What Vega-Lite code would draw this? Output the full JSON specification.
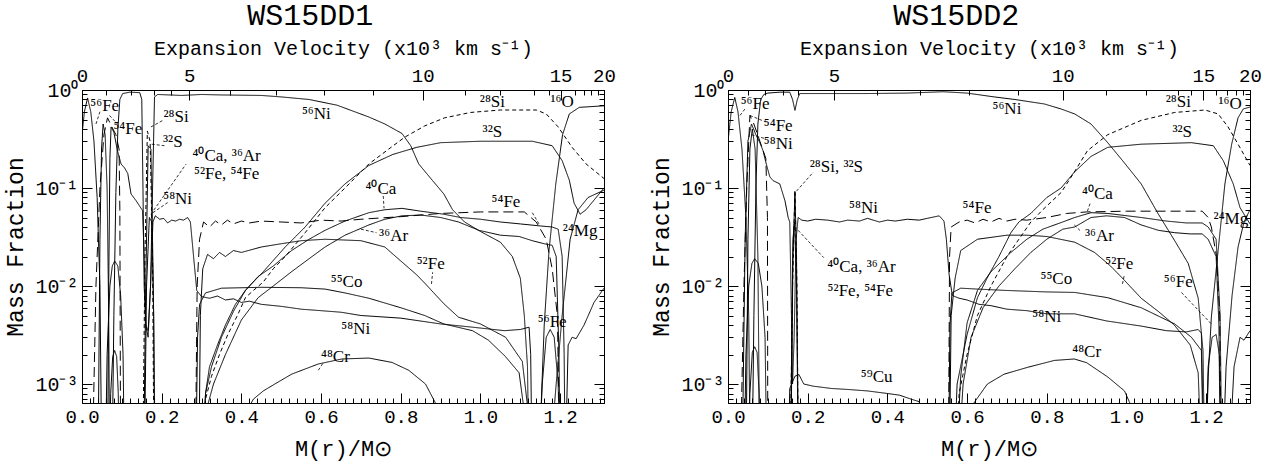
{
"$schema": "https://vega.github.io/schema/vega-lite/v6.json",
"background": "white",
"padding": {"left": 4, "right": 5, "top": 0, "bottom": 2},
"spacing": 34,
"config": {
  "view": {"stroke": "black", "strokeWidth": 1},
  "axis": {"grid": false, "domainColor": "black", "tickColor": "black", "labelColor": "black", "titleColor": "black", "labelFont": "Liberation Mono", "titleFont": "Liberation Mono", "labelFontSize": 19, "titleFontSize": 21, "titleFontWeight": "normal", "labelOverlap": false, "labelBound": false, "labelFlush": false, "tickWidth": 1, "domainWidth": 1}
},
"datasets": {
"lines": [
{"p":1,"s":"Ni56","d":"s","m":0.075,"y":0.0001},{"p":1,"s":"Ni56","d":"s","m":0.08,"y":0.005},{"p":1,"s":"Ni56","d":"s","m":0.085,"y":0.09},{"p":1,"s":"Ni56","d":"s","m":0.09,"y":0.4},{"p":1,"s":"Ni56","d":"s","m":0.095,"y":0.8},{"p":1,"s":"Ni56","d":"s","m":0.102,"y":0.92},{"p":1,"s":"Ni56","d":"s","m":0.12,"y":0.95},{"p":1,"s":"Ni56","d":"s","m":0.145,"y":0.94},{"p":1,"s":"Ni56","d":"s","m":0.15,"y":0.8},{"p":1,"s":"Ni56","d":"s","m":0.153,"y":0.1},{"p":1,"s":"Ni56","d":"s","m":0.156,"y":0.01},{"p":1,"s":"Ni56","d":"s","m":0.16,"y":0.004},{"p":1,"s":"Ni56","d":"s","m":0.166,"y":0.0035},{"p":1,"s":"Ni56","d":"s","m":0.172,"y":0.01},{"p":1,"s":"Ni56","d":"s","m":0.178,"y":0.15},{"p":1,"s":"Ni56","d":"s","m":0.182,"y":0.85},{"p":1,"s":"Ni56","d":"s","m":0.19,"y":0.9},{"p":1,"s":"Ni56","d":"s","m":0.25,"y":0.88},{"p":1,"s":"Ni56","d":"s","m":0.3,"y":0.9},{"p":1,"s":"Ni56","d":"s","m":0.35,"y":0.89},{"p":1,"s":"Ni56","d":"s","m":0.45,"y":0.88},{"p":1,"s":"Ni56","d":"s","m":0.5,"y":0.85},{"p":1,"s":"Ni56","d":"s","m":0.57,"y":0.8},{"p":1,"s":"Ni56","d":"s","m":0.64,"y":0.7},{"p":1,"s":"Ni56","d":"s","m":0.72,"y":0.53},{"p":1,"s":"Ni56","d":"s","m":0.76,"y":0.45},{"p":1,"s":"Ni56","d":"s","m":0.803,"y":0.36},{"p":1,"s":"Ni56","d":"s","m":0.825,"y":0.27},{"p":1,"s":"Ni56","d":"s","m":0.845,"y":0.176},{"p":1,"s":"Ni56","d":"s","m":0.879,"y":0.12},{"p":1,"s":"Ni56","d":"s","m":0.908,"y":0.087},{"p":1,"s":"Ni56","d":"s","m":0.93,"y":0.06},{"p":1,"s":"Ni56","d":"s","m":0.96,"y":0.045},{"p":1,"s":"Ni56","d":"s","m":1.0,"y":0.036},{"p":1,"s":"Ni56","d":"s","m":1.05,"y":0.028},{"p":1,"s":"Ni56","d":"s","m":1.08,"y":0.02},{"p":1,"s":"Ni56","d":"s","m":1.1,"y":0.012},{"p":1,"s":"Ni56","d":"s","m":1.11,"y":0.005},{"p":1,"s":"Ni56","d":"s","m":1.118,"y":0.0015},{"p":1,"s":"Ni56","d":"s","m":1.122,"y":0.0001},
{"p":1,"s":"Fe56","d":"s","m":0,"y":0.35},{"p":1,"s":"Fe56","d":"s","m":0.006,"y":0.6},{"p":1,"s":"Fe56","d":"s","m":0.014,"y":0.83},{"p":1,"s":"Fe56","d":"s","m":0.022,"y":0.6},{"p":1,"s":"Fe56","d":"s","m":0.03,"y":0.3},{"p":1,"s":"Fe56","d":"s","m":0.038,"y":0.08},{"p":1,"s":"Fe56","d":"s","m":0.045,"y":0.01},{"p":1,"s":"Fe56","d":"s","m":0.05,"y":0.0001},
{"p":1,"s":"Fe56o","d":"s","m":1.145,"y":0.0001},{"p":1,"s":"Fe56o","d":"s","m":1.155,"y":0.001},{"p":1,"s":"Fe56o","d":"s","m":1.165,"y":0.003},{"p":1,"s":"Fe56o","d":"s","m":1.175,"y":0.0036},{"p":1,"s":"Fe56o","d":"s","m":1.185,"y":0.003},{"p":1,"s":"Fe56o","d":"s","m":1.195,"y":0.001},{"p":1,"s":"Fe56o","d":"s","m":1.2,"y":0.0001},
{"p":1,"s":"c1","d":"s","m":0.04,"y":0.0001},{"p":1,"s":"c1","d":"s","m":0.045,"y":0.03},{"p":1,"s":"c1","d":"s","m":0.049,"y":0.25},{"p":1,"s":"c1","d":"s","m":0.053,"y":0.45},{"p":1,"s":"c1","d":"s","m":0.058,"y":0.35},{"p":1,"s":"c1","d":"s","m":0.063,"y":0.1},{"p":1,"s":"c1","d":"s","m":0.067,"y":0.005},{"p":1,"s":"c1","d":"s","m":0.07,"y":0.0001},
{"p":1,"s":"c2","d":"s","m":0.058,"y":0.0001},{"p":1,"s":"c2","d":"s","m":0.063,"y":0.002},{"p":1,"s":"c2","d":"s","m":0.07,"y":0.01},{"p":1,"s":"c2","d":"s","m":0.076,"y":0.016},{"p":1,"s":"c2","d":"s","m":0.082,"y":0.018},{"p":1,"s":"c2","d":"s","m":0.09,"y":0.016},{"p":1,"s":"c2","d":"s","m":0.097,"y":0.008},{"p":1,"s":"c2","d":"s","m":0.103,"y":0.002},{"p":1,"s":"c2","d":"s","m":0.107,"y":0.0001},
{"p":1,"s":"c3","d":"s","m":0.068,"y":0.0001},{"p":1,"s":"c3","d":"s","m":0.072,"y":0.0008},{"p":1,"s":"c3","d":"s","m":0.077,"y":0.0019},{"p":1,"s":"c3","d":"s","m":0.082,"y":0.0022},{"p":1,"s":"c3","d":"s","m":0.087,"y":0.0019},{"p":1,"s":"c3","d":"s","m":0.091,"y":0.0008},{"p":1,"s":"c3","d":"s","m":0.094,"y":0.0001},
{"p":1,"s":"Ni58","d":"s","m":0.064,"y":0.0001},{"p":1,"s":"Ni58","d":"s","m":0.067,"y":0.01},{"p":1,"s":"Ni58","d":"s","m":0.07,"y":0.2},{"p":1,"s":"Ni58","d":"s","m":0.073,"y":0.42},{"p":1,"s":"Ni58","d":"s","m":0.08,"y":0.37},{"p":1,"s":"Ni58","d":"s","m":0.089,"y":0.24},{"p":1,"s":"Ni58","d":"s","m":0.098,"y":0.176},{"p":1,"s":"Ni58","d":"s","m":0.107,"y":0.16},{"p":1,"s":"Ni58","d":"s","m":0.115,"y":0.14},{"p":1,"s":"Ni58","d":"s","m":0.123,"y":0.087},{"p":1,"s":"Ni58","d":"s","m":0.136,"y":0.074},{"p":1,"s":"Ni58","d":"s","m":0.145,"y":0.065},{"p":1,"s":"Ni58","d":"s","m":0.152,"y":0.059},{"p":1,"s":"Ni58","d":"s","m":0.156,"y":0.02},{"p":1,"s":"Ni58","d":"s","m":0.16,"y":0.004},{"p":1,"s":"Ni58","d":"s","m":0.166,"y":0.003},{"p":1,"s":"Ni58","d":"s","m":0.172,"y":0.01},{"p":1,"s":"Ni58","d":"s","m":0.178,"y":0.045},{"p":1,"s":"Ni58","d":"s","m":0.184,"y":0.052},{"p":1,"s":"Ni58","d":"s","m":0.195,"y":0.048},{"p":1,"s":"Ni58","d":"s","m":0.205,"y":0.049},{"p":1,"s":"Ni58","d":"s","m":0.215,"y":0.044},{"p":1,"s":"Ni58","d":"s","m":0.225,"y":0.047},{"p":1,"s":"Ni58","d":"s","m":0.235,"y":0.046},{"p":1,"s":"Ni58","d":"s","m":0.245,"y":0.048},{"p":1,"s":"Ni58","d":"s","m":0.255,"y":0.047},{"p":1,"s":"Ni58","d":"s","m":0.265,"y":0.05},{"p":1,"s":"Ni58","d":"s","m":0.272,"y":0.045},{"p":1,"s":"Ni58","d":"s","m":0.28,"y":0.02},{"p":1,"s":"Ni58","d":"s","m":0.288,"y":0.009},{"p":1,"s":"Ni58","d":"s","m":0.3,"y":0.0078},{"p":1,"s":"Ni58","d":"s","m":0.32,"y":0.0075},{"p":1,"s":"Ni58","d":"s","m":0.34,"y":0.0079},{"p":1,"s":"Ni58","d":"s","m":0.36,"y":0.0072},{"p":1,"s":"Ni58","d":"s","m":0.38,"y":0.0074},{"p":1,"s":"Ni58","d":"s","m":0.4,"y":0.0068},{"p":1,"s":"Ni58","d":"s","m":0.42,"y":0.007},{"p":1,"s":"Ni58","d":"s","m":0.45,"y":0.0065},{"p":1,"s":"Ni58","d":"s","m":0.5,"y":0.0062},{"p":1,"s":"Ni58","d":"s","m":0.55,"y":0.0058},{"p":1,"s":"Ni58","d":"s","m":0.6,"y":0.0056},{"p":1,"s":"Ni58","d":"s","m":0.65,"y":0.0054},{"p":1,"s":"Ni58","d":"s","m":0.7,"y":0.005},{"p":1,"s":"Ni58","d":"s","m":0.8,"y":0.0047},{"p":1,"s":"Ni58","d":"s","m":0.9,"y":0.0041},{"p":1,"s":"Ni58","d":"s","m":0.98,"y":0.0038},{"p":1,"s":"Ni58","d":"s","m":1.06,"y":0.0035},{"p":1,"s":"Ni58","d":"s","m":1.1,"y":0.0036},{"p":1,"s":"Ni58","d":"s","m":1.122,"y":0.0038},{"p":1,"s":"Ni58","d":"s","m":1.126,"y":0.002},{"p":1,"s":"Ni58","d":"s","m":1.13,"y":0.0001},
{"p":1,"s":"Si","d":"d","m":0.305,"y":0.0001},{"p":1,"s":"Si","d":"d","m":0.31,"y":0.0007},{"p":1,"s":"Si","d":"d","m":0.325,"y":0.0012},{"p":1,"s":"Si","d":"d","m":0.345,"y":0.002},{"p":1,"s":"Si","d":"d","m":0.366,"y":0.0032},{"p":1,"s":"Si","d":"d","m":0.39,"y":0.005},{"p":1,"s":"Si","d":"d","m":0.41,"y":0.0076},{"p":1,"s":"Si","d":"d","m":0.43,"y":0.009},{"p":1,"s":"Si","d":"d","m":0.455,"y":0.011},{"p":1,"s":"Si","d":"d","m":0.48,"y":0.015},{"p":1,"s":"Si","d":"d","m":0.51,"y":0.02},{"p":1,"s":"Si","d":"d","m":0.56,"y":0.035},{"p":1,"s":"Si","d":"d","m":0.61,"y":0.063},{"p":1,"s":"Si","d":"d","m":0.66,"y":0.1},{"p":1,"s":"Si","d":"d","m":0.72,"y":0.176},{"p":1,"s":"Si","d":"d","m":0.77,"y":0.25},{"p":1,"s":"Si","d":"d","m":0.81,"y":0.33},{"p":1,"s":"Si","d":"d","m":0.86,"y":0.43},{"p":1,"s":"Si","d":"d","m":0.91,"y":0.52},{"p":1,"s":"Si","d":"d","m":0.975,"y":0.59},{"p":1,"s":"Si","d":"d","m":1.05,"y":0.625},{"p":1,"s":"Si","d":"d","m":1.14,"y":0.625},{"p":1,"s":"Si","d":"d","m":1.165,"y":0.57},{"p":1,"s":"Si","d":"d","m":1.195,"y":0.42},{"p":1,"s":"Si","d":"d","m":1.23,"y":0.26},{"p":1,"s":"Si","d":"d","m":1.265,"y":0.176},{"p":1,"s":"Si","d":"d","m":1.31,"y":0.125},
{"p":1,"s":"Sic","d":"d","m":0.152,"y":0.0001},{"p":1,"s":"Sic","d":"d","m":0.158,"y":0.02},{"p":1,"s":"Sic","d":"d","m":0.164,"y":0.38},{"p":1,"s":"Sic","d":"d","m":0.171,"y":0.3},{"p":1,"s":"Sic","d":"d","m":0.177,"y":0.02},{"p":1,"s":"Sic","d":"d","m":0.181,"y":0.0001},
{"p":1,"s":"S","d":"s","m":0.3,"y":0.0001},{"p":1,"s":"S","d":"s","m":0.31,"y":0.0008},{"p":1,"s":"S","d":"s","m":0.32,"y":0.0015},{"p":1,"s":"S","d":"s","m":0.34,"y":0.0025},{"p":1,"s":"S","d":"s","m":0.36,"y":0.004},{"p":1,"s":"S","d":"s","m":0.385,"y":0.0065},{"p":1,"s":"S","d":"s","m":0.41,"y":0.009},{"p":1,"s":"S","d":"s","m":0.43,"y":0.011},{"p":1,"s":"S","d":"s","m":0.455,"y":0.014},{"p":1,"s":"S","d":"s","m":0.51,"y":0.025},{"p":1,"s":"S","d":"s","m":0.56,"y":0.04},{"p":1,"s":"S","d":"s","m":0.61,"y":0.07},{"p":1,"s":"S","d":"s","m":0.66,"y":0.11},{"p":1,"s":"S","d":"s","m":0.72,"y":0.17},{"p":1,"s":"S","d":"s","m":0.78,"y":0.22},{"p":1,"s":"S","d":"s","m":0.84,"y":0.26},{"p":1,"s":"S","d":"s","m":0.9,"y":0.29},{"p":1,"s":"S","d":"s","m":1.0,"y":0.3},{"p":1,"s":"S","d":"s","m":1.13,"y":0.3},{"p":1,"s":"S","d":"s","m":1.18,"y":0.27},{"p":1,"s":"S","d":"s","m":1.205,"y":0.19},{"p":1,"s":"S","d":"s","m":1.223,"y":0.12},{"p":1,"s":"S","d":"s","m":1.235,"y":0.07},{"p":1,"s":"S","d":"s","m":1.25,"y":0.054},{"p":1,"s":"S","d":"s","m":1.265,"y":0.06},{"p":1,"s":"S","d":"s","m":1.31,"y":0.1},
{"p":1,"s":"Sc","d":"s","m":0.154,"y":0.0001},{"p":1,"s":"Sc","d":"s","m":0.16,"y":0.01},{"p":1,"s":"Sc","d":"s","m":0.166,"y":0.27},{"p":1,"s":"Sc","d":"s","m":0.173,"y":0.25},{"p":1,"s":"Sc","d":"s","m":0.179,"y":0.01},{"p":1,"s":"Sc","d":"s","m":0.183,"y":0.0001},
{"p":1,"s":"CAc","d":"s","m":0.156,"y":0.0001},{"p":1,"s":"CAc","d":"s","m":0.162,"y":0.01},{"p":1,"s":"CAc","d":"s","m":0.169,"y":0.05},{"p":1,"s":"CAc","d":"s","m":0.175,"y":0.045},{"p":1,"s":"CAc","d":"s","m":0.18,"y":0.005},{"p":1,"s":"CAc","d":"s","m":0.184,"y":0.0001},
{"p":1,"s":"Ca","d":"s","m":0.3,"y":0.0001},{"p":1,"s":"Ca","d":"s","m":0.31,"y":0.0008},{"p":1,"s":"Ca","d":"s","m":0.325,"y":0.0015},{"p":1,"s":"Ca","d":"s","m":0.35,"y":0.003},{"p":1,"s":"Ca","d":"s","m":0.38,"y":0.0055},{"p":1,"s":"Ca","d":"s","m":0.41,"y":0.009},{"p":1,"s":"Ca","d":"s","m":0.442,"y":0.0125},{"p":1,"s":"Ca","d":"s","m":0.48,"y":0.016},{"p":1,"s":"Ca","d":"s","m":0.526,"y":0.023},{"p":1,"s":"Ca","d":"s","m":0.57,"y":0.03},{"p":1,"s":"Ca","d":"s","m":0.61,"y":0.037},{"p":1,"s":"Ca","d":"s","m":0.66,"y":0.046},{"p":1,"s":"Ca","d":"s","m":0.72,"y":0.056},{"p":1,"s":"Ca","d":"s","m":0.76,"y":0.06},{"p":1,"s":"Ca","d":"s","m":0.803,"y":0.062},{"p":1,"s":"Ca","d":"s","m":0.85,"y":0.058},{"p":1,"s":"Ca","d":"s","m":0.908,"y":0.054},{"p":1,"s":"Ca","d":"s","m":0.95,"y":0.05},{"p":1,"s":"Ca","d":"s","m":1.0,"y":0.048},{"p":1,"s":"Ca","d":"s","m":1.05,"y":0.045},{"p":1,"s":"Ca","d":"s","m":1.1,"y":0.043},{"p":1,"s":"Ca","d":"s","m":1.15,"y":0.041},{"p":1,"s":"Ca","d":"s","m":1.18,"y":0.04},{"p":1,"s":"Ca","d":"s","m":1.195,"y":0.038},{"p":1,"s":"Ca","d":"s","m":1.205,"y":0.02},{"p":1,"s":"Ca","d":"s","m":1.21,"y":0.002},{"p":1,"s":"Ca","d":"s","m":1.213,"y":0.0001},
{"p":1,"s":"Ar","d":"s","m":0.305,"y":0.0001},{"p":1,"s":"Ar","d":"s","m":0.315,"y":0.0006},{"p":1,"s":"Ar","d":"s","m":0.33,"y":0.001},{"p":1,"s":"Ar","d":"s","m":0.36,"y":0.002},{"p":1,"s":"Ar","d":"s","m":0.4,"y":0.0045},{"p":1,"s":"Ar","d":"s","m":0.442,"y":0.0076},{"p":1,"s":"Ar","d":"s","m":0.48,"y":0.01},{"p":1,"s":"Ar","d":"s","m":0.526,"y":0.014},{"p":1,"s":"Ar","d":"s","m":0.57,"y":0.019},{"p":1,"s":"Ar","d":"s","m":0.61,"y":0.025},{"p":1,"s":"Ar","d":"s","m":0.66,"y":0.033},{"p":1,"s":"Ar","d":"s","m":0.72,"y":0.042},{"p":1,"s":"Ar","d":"s","m":0.76,"y":0.048},{"p":1,"s":"Ar","d":"s","m":0.803,"y":0.052},{"p":1,"s":"Ar","d":"s","m":0.85,"y":0.053},{"p":1,"s":"Ar","d":"s","m":0.9,"y":0.05},{"p":1,"s":"Ar","d":"s","m":0.945,"y":0.045},{"p":1,"s":"Ar","d":"s","m":0.996,"y":0.037},{"p":1,"s":"Ar","d":"s","m":1.05,"y":0.033},{"p":1,"s":"Ar","d":"s","m":1.097,"y":0.032},{"p":1,"s":"Ar","d":"s","m":1.13,"y":0.029},{"p":1,"s":"Ar","d":"s","m":1.16,"y":0.027},{"p":1,"s":"Ar","d":"s","m":1.18,"y":0.026},{"p":1,"s":"Ar","d":"s","m":1.19,"y":0.02},{"p":1,"s":"Ar","d":"s","m":1.197,"y":0.002},{"p":1,"s":"Ar","d":"s","m":1.2,"y":0.0001},
{"p":1,"s":"Fe52","d":"s","m":0.293,"y":0.0001},{"p":1,"s":"Fe52","d":"s","m":0.297,"y":0.005},{"p":1,"s":"Fe52","d":"s","m":0.303,"y":0.015},{"p":1,"s":"Fe52","d":"s","m":0.315,"y":0.021},{"p":1,"s":"Fe52","d":"s","m":0.33,"y":0.019},{"p":1,"s":"Fe52","d":"s","m":0.345,"y":0.022},{"p":1,"s":"Fe52","d":"s","m":0.36,"y":0.02},{"p":1,"s":"Fe52","d":"s","m":0.38,"y":0.023},{"p":1,"s":"Fe52","d":"s","m":0.4,"y":0.022},{"p":1,"s":"Fe52","d":"s","m":0.45,"y":0.025},{"p":1,"s":"Fe52","d":"s","m":0.5,"y":0.027},{"p":1,"s":"Fe52","d":"s","m":0.55,"y":0.029},{"p":1,"s":"Fe52","d":"s","m":0.61,"y":0.03},{"p":1,"s":"Fe52","d":"s","m":0.7,"y":0.029},{"p":1,"s":"Fe52","d":"s","m":0.76,"y":0.025},{"p":1,"s":"Fe52","d":"s","m":0.8,"y":0.018},{"p":1,"s":"Fe52","d":"s","m":0.84,"y":0.013},{"p":1,"s":"Fe52","d":"s","m":0.862,"y":0.0105},{"p":1,"s":"Fe52","d":"s","m":0.908,"y":0.0066},{"p":1,"s":"Fe52","d":"s","m":0.945,"y":0.0048},{"p":1,"s":"Fe52","d":"s","m":1.0,"y":0.0041},{"p":1,"s":"Fe52","d":"s","m":1.063,"y":0.003},{"p":1,"s":"Fe52","d":"s","m":1.105,"y":0.0017},{"p":1,"s":"Fe52","d":"s","m":1.118,"y":0.0006},{"p":1,"s":"Fe52","d":"s","m":1.122,"y":0.0001},
{"p":1,"s":"Co","d":"s","m":0.285,"y":0.0001},{"p":1,"s":"Co","d":"s","m":0.29,"y":0.003},{"p":1,"s":"Co","d":"s","m":0.295,"y":0.0065},{"p":1,"s":"Co","d":"s","m":0.31,"y":0.0085},{"p":1,"s":"Co","d":"s","m":0.35,"y":0.0095},{"p":1,"s":"Co","d":"s","m":0.45,"y":0.0097},{"p":1,"s":"Co","d":"s","m":0.55,"y":0.0096},{"p":1,"s":"Co","d":"s","m":0.61,"y":0.0093},{"p":1,"s":"Co","d":"s","m":0.66,"y":0.0085},{"p":1,"s":"Co","d":"s","m":0.72,"y":0.0075},{"p":1,"s":"Co","d":"s","m":0.8,"y":0.006},{"p":1,"s":"Co","d":"s","m":0.86,"y":0.005},{"p":1,"s":"Co","d":"s","m":0.908,"y":0.0041},{"p":1,"s":"Co","d":"s","m":0.98,"y":0.0035},{"p":1,"s":"Co","d":"s","m":1.02,"y":0.0028},{"p":1,"s":"Co","d":"s","m":1.063,"y":0.0019},{"p":1,"s":"Co","d":"s","m":1.097,"y":0.0013},{"p":1,"s":"Co","d":"s","m":1.108,"y":0.0006},{"p":1,"s":"Co","d":"s","m":1.113,"y":0.0001},
{"p":1,"s":"Cr","d":"s","m":0.395,"y":0.0001},{"p":1,"s":"Cr","d":"s","m":0.41,"y":0.0005},{"p":1,"s":"Cr","d":"s","m":0.43,"y":0.0007},{"p":1,"s":"Cr","d":"s","m":0.455,"y":0.00085},{"p":1,"s":"Cr","d":"s","m":0.484,"y":0.001},{"p":1,"s":"Cr","d":"s","m":0.526,"y":0.00126},{"p":1,"s":"Cr","d":"s","m":0.593,"y":0.0016},{"p":1,"s":"Cr","d":"s","m":0.652,"y":0.0018},{"p":1,"s":"Cr","d":"s","m":0.72,"y":0.00184},{"p":1,"s":"Cr","d":"s","m":0.778,"y":0.00166},{"p":1,"s":"Cr","d":"s","m":0.82,"y":0.00138},{"p":1,"s":"Cr","d":"s","m":0.862,"y":0.001},{"p":1,"s":"Cr","d":"s","m":0.887,"y":0.00064},{"p":1,"s":"Cr","d":"s","m":0.9,"y":0.0003},{"p":1,"s":"Cr","d":"s","m":0.91,"y":0.0001},
{"p":1,"s":"Fe54c","d":"l","m":0.025,"y":0.0001},{"p":1,"s":"Fe54c","d":"l","m":0.035,"y":0.01},{"p":1,"s":"Fe54c","d":"l","m":0.045,"y":0.1},{"p":1,"s":"Fe54c","d":"l","m":0.055,"y":0.35},{"p":1,"s":"Fe54c","d":"l","m":0.064,"y":0.52},{"p":1,"s":"Fe54c","d":"l","m":0.075,"y":0.42},{"p":1,"s":"Fe54c","d":"l","m":0.085,"y":0.35},{"p":1,"s":"Fe54c","d":"l","m":0.093,"y":0.25},{"p":1,"s":"Fe54c","d":"l","m":0.095,"y":0.06},{"p":1,"s":"Fe54c","d":"l","m":0.097,"y":0.0001},
{"p":1,"s":"Fe54","d":"l","m":0.284,"y":0.0001},{"p":1,"s":"Fe54","d":"l","m":0.289,"y":0.01},{"p":1,"s":"Fe54","d":"l","m":0.295,"y":0.03},{"p":1,"s":"Fe54","d":"l","m":0.305,"y":0.045},{"p":1,"s":"Fe54","d":"l","m":0.32,"y":0.04},{"p":1,"s":"Fe54","d":"l","m":0.335,"y":0.046},{"p":1,"s":"Fe54","d":"l","m":0.35,"y":0.042},{"p":1,"s":"Fe54","d":"l","m":0.365,"y":0.047},{"p":1,"s":"Fe54","d":"l","m":0.38,"y":0.043},{"p":1,"s":"Fe54","d":"l","m":0.4,"y":0.046},{"p":1,"s":"Fe54","d":"l","m":0.42,"y":0.044},{"p":1,"s":"Fe54","d":"l","m":0.45,"y":0.046},{"p":1,"s":"Fe54","d":"l","m":0.5,"y":0.045},{"p":1,"s":"Fe54","d":"l","m":0.55,"y":0.044},{"p":1,"s":"Fe54","d":"l","m":0.6,"y":0.047},{"p":1,"s":"Fe54","d":"l","m":0.65,"y":0.046},{"p":1,"s":"Fe54","d":"l","m":0.7,"y":0.048},{"p":1,"s":"Fe54","d":"l","m":0.8,"y":0.051},{"p":1,"s":"Fe54","d":"l","m":0.9,"y":0.055},{"p":1,"s":"Fe54","d":"l","m":1.0,"y":0.057},{"p":1,"s":"Fe54","d":"l","m":1.11,"y":0.057},{"p":1,"s":"Fe54","d":"l","m":1.14,"y":0.045},{"p":1,"s":"Fe54","d":"l","m":1.165,"y":0.03},{"p":1,"s":"Fe54","d":"l","m":1.18,"y":0.015},{"p":1,"s":"Fe54","d":"l","m":1.193,"y":0.005},{"p":1,"s":"Fe54","d":"l","m":1.2,"y":0.0001},
{"p":1,"s":"O","d":"s","m":1.145,"y":0.0001},{"p":1,"s":"O","d":"s","m":1.16,"y":0.004},{"p":1,"s":"O","d":"s","m":1.172,"y":0.023},{"p":1,"s":"O","d":"s","m":1.189,"y":0.11},{"p":1,"s":"O","d":"s","m":1.206,"y":0.35},{"p":1,"s":"O","d":"s","m":1.223,"y":0.57},{"p":1,"s":"O","d":"s","m":1.248,"y":0.665},{"p":1,"s":"O","d":"s","m":1.31,"y":0.69},
{"p":1,"s":"Mg","d":"s","m":1.17,"y":0.0001},{"p":1,"s":"Mg","d":"s","m":1.19,"y":0.001},{"p":1,"s":"Mg","d":"s","m":1.205,"y":0.005},{"p":1,"s":"Mg","d":"s","m":1.225,"y":0.03},{"p":1,"s":"Mg","d":"s","m":1.245,"y":0.06},{"p":1,"s":"Mg","d":"s","m":1.27,"y":0.08},{"p":1,"s":"Mg","d":"s","m":1.31,"y":0.095},
{"p":1,"s":"c4","d":"s","m":1.212,"y":0.0001},{"p":1,"s":"c4","d":"s","m":1.22,"y":0.0025},{"p":1,"s":"c4","d":"s","m":1.23,"y":0.003},{"p":1,"s":"c4","d":"s","m":1.24,"y":0.0029},{"p":1,"s":"c4","d":"s","m":1.26,"y":0.004},{"p":1,"s":"c4","d":"s","m":1.285,"y":0.0068},{"p":1,"s":"c4","d":"s","m":1.31,"y":0.0095},
{"p":2,"s":"Ni56","d":"s","m":0.06,"y":0.0001},{"p":2,"s":"Ni56","d":"s","m":0.065,"y":0.005},{"p":2,"s":"Ni56","d":"s","m":0.07,"y":0.1},{"p":2,"s":"Ni56","d":"s","m":0.075,"y":0.45},{"p":2,"s":"Ni56","d":"s","m":0.082,"y":0.8},{"p":2,"s":"Ni56","d":"s","m":0.09,"y":0.9},{"p":2,"s":"Ni56","d":"s","m":0.1,"y":0.93},{"p":2,"s":"Ni56","d":"s","m":0.13,"y":0.95},{"p":2,"s":"Ni56","d":"s","m":0.155,"y":0.95},{"p":2,"s":"Ni56","d":"s","m":0.162,"y":0.8},{"p":2,"s":"Ni56","d":"s","m":0.168,"y":0.62},{"p":2,"s":"Ni56","d":"s","m":0.174,"y":0.8},{"p":2,"s":"Ni56","d":"s","m":0.18,"y":0.92},{"p":2,"s":"Ni56","d":"s","m":0.25,"y":0.92},{"p":2,"s":"Ni56","d":"s","m":0.35,"y":0.92},{"p":2,"s":"Ni56","d":"s","m":0.45,"y":0.93},{"p":2,"s":"Ni56","d":"s","m":0.54,"y":0.96},{"p":2,"s":"Ni56","d":"s","m":0.6,"y":0.93},{"p":2,"s":"Ni56","d":"s","m":0.668,"y":0.85},{"p":2,"s":"Ni56","d":"s","m":0.72,"y":0.8},{"p":2,"s":"Ni56","d":"s","m":0.794,"y":0.72},{"p":2,"s":"Ni56","d":"s","m":0.836,"y":0.64},{"p":2,"s":"Ni56","d":"s","m":0.87,"y":0.57},{"p":2,"s":"Ni56","d":"s","m":0.911,"y":0.45},{"p":2,"s":"Ni56","d":"s","m":0.953,"y":0.29},{"p":2,"s":"Ni56","d":"s","m":0.995,"y":0.18},{"p":2,"s":"Ni56","d":"s","m":1.037,"y":0.11},{"p":2,"s":"Ni56","d":"s","m":1.079,"y":0.055},{"p":2,"s":"Ni56","d":"s","m":1.121,"y":0.029},{"p":2,"s":"Ni56","d":"s","m":1.155,"y":0.017},{"p":2,"s":"Ni56","d":"s","m":1.18,"y":0.0075},{"p":2,"s":"Ni56","d":"s","m":1.192,"y":0.0022},{"p":2,"s":"Ni56","d":"s","m":1.197,"y":0.0001},
{"p":2,"s":"Fe56","d":"s","m":0,"y":0.3},{"p":2,"s":"Fe56","d":"s","m":0.008,"y":0.6},{"p":2,"s":"Fe56","d":"s","m":0.017,"y":0.84},{"p":2,"s":"Fe56","d":"s","m":0.025,"y":0.6},{"p":2,"s":"Fe56","d":"s","m":0.035,"y":0.25},{"p":2,"s":"Fe56","d":"s","m":0.045,"y":0.05},{"p":2,"s":"Fe56","d":"s","m":0.052,"y":0.005},{"p":2,"s":"Fe56","d":"s","m":0.056,"y":0.0001},
{"p":2,"s":"Fe56o","d":"s","m":1.198,"y":0.0001},{"p":2,"s":"Fe56o","d":"s","m":1.205,"y":0.0015},{"p":2,"s":"Fe56o","d":"s","m":1.215,"y":0.003},{"p":2,"s":"Fe56o","d":"s","m":1.225,"y":0.0032},{"p":2,"s":"Fe56o","d":"s","m":1.233,"y":0.002},{"p":2,"s":"Fe56o","d":"s","m":1.24,"y":0.0001},
{"p":2,"s":"c1","d":"s","m":0.045,"y":0.0001},{"p":2,"s":"c1","d":"s","m":0.05,"y":0.03},{"p":2,"s":"c1","d":"s","m":0.055,"y":0.25},{"p":2,"s":"c1","d":"s","m":0.061,"y":0.4},{"p":2,"s":"c1","d":"s","m":0.068,"y":0.25},{"p":2,"s":"c1","d":"s","m":0.075,"y":0.02},{"p":2,"s":"c1","d":"s","m":0.08,"y":0.0001},
{"p":2,"s":"c2","d":"s","m":0.04,"y":0.0001},{"p":2,"s":"c2","d":"s","m":0.045,"y":0.002},{"p":2,"s":"c2","d":"s","m":0.052,"y":0.01},{"p":2,"s":"c2","d":"s","m":0.06,"y":0.017},{"p":2,"s":"c2","d":"s","m":0.067,"y":0.019},{"p":2,"s":"c2","d":"s","m":0.076,"y":0.017},{"p":2,"s":"c2","d":"s","m":0.085,"y":0.01},{"p":2,"s":"c2","d":"s","m":0.093,"y":0.003},{"p":2,"s":"c2","d":"s","m":0.098,"y":0.0001},
{"p":2,"s":"c3","d":"s","m":0.05,"y":0.0001},{"p":2,"s":"c3","d":"s","m":0.055,"y":0.0008},{"p":2,"s":"c3","d":"s","m":0.061,"y":0.0021},{"p":2,"s":"c3","d":"s","m":0.067,"y":0.0024},{"p":2,"s":"c3","d":"s","m":0.073,"y":0.0021},{"p":2,"s":"c3","d":"s","m":0.078,"y":0.0008},{"p":2,"s":"c3","d":"s","m":0.081,"y":0.0001},
{"p":2,"s":"Ni58","d":"s","m":0.035,"y":0.0001},{"p":2,"s":"Ni58","d":"s","m":0.043,"y":0.03},{"p":2,"s":"Ni58","d":"s","m":0.05,"y":0.3},{"p":2,"s":"Ni58","d":"s","m":0.059,"y":0.45},{"p":2,"s":"Ni58","d":"s","m":0.07,"y":0.35},{"p":2,"s":"Ni58","d":"s","m":0.08,"y":0.29},{"p":2,"s":"Ni58","d":"s","m":0.088,"y":0.24},{"p":2,"s":"Ni58","d":"s","m":0.096,"y":0.176},{"p":2,"s":"Ni58","d":"s","m":0.105,"y":0.13},{"p":2,"s":"Ni58","d":"s","m":0.113,"y":0.119},{"p":2,"s":"Ni58","d":"s","m":0.13,"y":0.11},{"p":2,"s":"Ni58","d":"s","m":0.143,"y":0.074},{"p":2,"s":"Ni58","d":"s","m":0.151,"y":0.05},{"p":2,"s":"Ni58","d":"s","m":0.155,"y":0.045},{"p":2,"s":"Ni58","d":"s","m":0.158,"y":0.01},{"p":2,"s":"Ni58","d":"s","m":0.162,"y":0.001},{"p":2,"s":"Ni58","d":"s","m":0.166,"y":0.003},{"p":2,"s":"Ni58","d":"s","m":0.171,"y":0.03},{"p":2,"s":"Ni58","d":"s","m":0.176,"y":0.05},{"p":2,"s":"Ni58","d":"s","m":0.185,"y":0.047},{"p":2,"s":"Ni58","d":"s","m":0.2,"y":0.046},{"p":2,"s":"Ni58","d":"s","m":0.22,"y":0.048},{"p":2,"s":"Ni58","d":"s","m":0.25,"y":0.047},{"p":2,"s":"Ni58","d":"s","m":0.28,"y":0.045},{"p":2,"s":"Ni58","d":"s","m":0.3,"y":0.047},{"p":2,"s":"Ni58","d":"s","m":0.33,"y":0.046},{"p":2,"s":"Ni58","d":"s","m":0.35,"y":0.049},{"p":2,"s":"Ni58","d":"s","m":0.38,"y":0.045},{"p":2,"s":"Ni58","d":"s","m":0.4,"y":0.047},{"p":2,"s":"Ni58","d":"s","m":0.42,"y":0.046},{"p":2,"s":"Ni58","d":"s","m":0.45,"y":0.048},{"p":2,"s":"Ni58","d":"s","m":0.48,"y":0.047},{"p":2,"s":"Ni58","d":"s","m":0.5,"y":0.049},{"p":2,"s":"Ni58","d":"s","m":0.53,"y":0.052},{"p":2,"s":"Ni58","d":"s","m":0.542,"y":0.046},{"p":2,"s":"Ni58","d":"s","m":0.548,"y":0.03},{"p":2,"s":"Ni58","d":"s","m":0.555,"y":0.013},{"p":2,"s":"Ni58","d":"s","m":0.563,"y":0.008},{"p":2,"s":"Ni58","d":"s","m":0.58,"y":0.0075},{"p":2,"s":"Ni58","d":"s","m":0.6,"y":0.0072},{"p":2,"s":"Ni58","d":"s","m":0.63,"y":0.0065},{"p":2,"s":"Ni58","d":"s","m":0.66,"y":0.0063},{"p":2,"s":"Ni58","d":"s","m":0.7,"y":0.0058},{"p":2,"s":"Ni58","d":"s","m":0.75,"y":0.0056},{"p":2,"s":"Ni58","d":"s","m":0.8,"y":0.0052},{"p":2,"s":"Ni58","d":"s","m":0.87,"y":0.0052},{"p":2,"s":"Ni58","d":"s","m":0.95,"y":0.0044},{"p":2,"s":"Ni58","d":"s","m":1.037,"y":0.0039},{"p":2,"s":"Ni58","d":"s","m":1.1,"y":0.0035},{"p":2,"s":"Ni58","d":"s","m":1.15,"y":0.0034},{"p":2,"s":"Ni58","d":"s","m":1.18,"y":0.0036},{"p":2,"s":"Ni58","d":"s","m":1.188,"y":0.0033},{"p":2,"s":"Ni58","d":"s","m":1.193,"y":0.0001},
{"p":2,"s":"Si","d":"d","m":0.57,"y":0.0001},{"p":2,"s":"Si","d":"d","m":0.58,"y":0.0008},{"p":2,"s":"Si","d":"d","m":0.6,"y":0.002},{"p":2,"s":"Si","d":"d","m":0.626,"y":0.005},{"p":2,"s":"Si","d":"d","m":0.66,"y":0.01},{"p":2,"s":"Si","d":"d","m":0.7,"y":0.02},{"p":2,"s":"Si","d":"d","m":0.73,"y":0.03},{"p":2,"s":"Si","d":"d","m":0.76,"y":0.045},{"p":2,"s":"Si","d":"d","m":0.79,"y":0.06},{"p":2,"s":"Si","d":"d","m":0.836,"y":0.09},{"p":2,"s":"Si","d":"d","m":0.869,"y":0.145},{"p":2,"s":"Si","d":"d","m":0.902,"y":0.24},{"p":2,"s":"Si","d":"d","m":0.953,"y":0.35},{"p":2,"s":"Si","d":"d","m":1.037,"y":0.49},{"p":2,"s":"Si","d":"d","m":1.121,"y":0.59},{"p":2,"s":"Si","d":"d","m":1.197,"y":0.625},{"p":2,"s":"Si","d":"d","m":1.23,"y":0.57},{"p":2,"s":"Si","d":"d","m":1.255,"y":0.42},{"p":2,"s":"Si","d":"d","m":1.28,"y":0.28},{"p":2,"s":"Si","d":"d","m":1.31,"y":0.17},
{"p":2,"s":"Sic","d":"d","m":0.155,"y":0.0001},{"p":2,"s":"Sic","d":"d","m":0.162,"y":0.01},{"p":2,"s":"Sic","d":"d","m":0.168,"y":0.095},{"p":2,"s":"Sic","d":"d","m":0.173,"y":0.01},{"p":2,"s":"Sic","d":"d","m":0.177,"y":0.0001},
{"p":2,"s":"S","d":"s","m":0.565,"y":0.0001},{"p":2,"s":"S","d":"s","m":0.575,"y":0.001},{"p":2,"s":"S","d":"s","m":0.6,"y":0.0032},{"p":2,"s":"S","d":"s","m":0.626,"y":0.0076},{"p":2,"s":"S","d":"s","m":0.65,"y":0.012},{"p":2,"s":"S","d":"s","m":0.68,"y":0.02},{"p":2,"s":"S","d":"s","m":0.71,"y":0.035},{"p":2,"s":"S","d":"s","m":0.73,"y":0.045},{"p":2,"s":"S","d":"s","m":0.76,"y":0.055},{"p":2,"s":"S","d":"s","m":0.8,"y":0.08},{"p":2,"s":"S","d":"s","m":0.836,"y":0.1},{"p":2,"s":"S","d":"s","m":0.869,"y":0.145},{"p":2,"s":"S","d":"s","m":0.911,"y":0.21},{"p":2,"s":"S","d":"s","m":0.953,"y":0.26},{"p":2,"s":"S","d":"s","m":1.037,"y":0.28},{"p":2,"s":"S","d":"s","m":1.163,"y":0.29},{"p":2,"s":"S","d":"s","m":1.218,"y":0.27},{"p":2,"s":"S","d":"s","m":1.243,"y":0.19},{"p":2,"s":"S","d":"s","m":1.268,"y":0.11},{"p":2,"s":"S","d":"s","m":1.285,"y":0.063},{"p":2,"s":"S","d":"s","m":1.31,"y":0.043},
{"p":2,"s":"Sc","d":"s","m":0.157,"y":0.0001},{"p":2,"s":"Sc","d":"s","m":0.163,"y":0.02},{"p":2,"s":"Sc","d":"s","m":0.168,"y":0.09},{"p":2,"s":"Sc","d":"s","m":0.172,"y":0.02},{"p":2,"s":"Sc","d":"s","m":0.176,"y":0.0001},
{"p":2,"s":"CAc","d":"s","m":0.156,"y":0.0001},{"p":2,"s":"CAc","d":"s","m":0.163,"y":0.03},{"p":2,"s":"CAc","d":"s","m":0.167,"y":0.045},{"p":2,"s":"CAc","d":"s","m":0.172,"y":0.01},{"p":2,"s":"CAc","d":"s","m":0.178,"y":0.0001},
{"p":2,"s":"Ca","d":"s","m":0.57,"y":0.0001},{"p":2,"s":"Ca","d":"s","m":0.584,"y":0.0012},{"p":2,"s":"Ca","d":"s","m":0.6,"y":0.0042},{"p":2,"s":"Ca","d":"s","m":0.626,"y":0.009},{"p":2,"s":"Ca","d":"s","m":0.66,"y":0.014},{"p":2,"s":"Ca","d":"s","m":0.71,"y":0.022},{"p":2,"s":"Ca","d":"s","m":0.75,"y":0.03},{"p":2,"s":"Ca","d":"s","m":0.79,"y":0.038},{"p":2,"s":"Ca","d":"s","m":0.84,"y":0.045},{"p":2,"s":"Ca","d":"s","m":0.87,"y":0.05},{"p":2,"s":"Ca","d":"s","m":0.911,"y":0.056},{"p":2,"s":"Ca","d":"s","m":0.953,"y":0.055},{"p":2,"s":"Ca","d":"s","m":1.037,"y":0.05},{"p":2,"s":"Ca","d":"s","m":1.1,"y":0.046},{"p":2,"s":"Ca","d":"s","m":1.15,"y":0.044},{"p":2,"s":"Ca","d":"s","m":1.19,"y":0.044},{"p":2,"s":"Ca","d":"s","m":1.205,"y":0.04},{"p":2,"s":"Ca","d":"s","m":1.225,"y":0.03},{"p":2,"s":"Ca","d":"s","m":1.235,"y":0.005},{"p":2,"s":"Ca","d":"s","m":1.24,"y":0.0001},
{"p":2,"s":"Ar","d":"s","m":0.575,"y":0.0001},{"p":2,"s":"Ar","d":"s","m":0.59,"y":0.001},{"p":2,"s":"Ar","d":"s","m":0.61,"y":0.003},{"p":2,"s":"Ar","d":"s","m":0.64,"y":0.006},{"p":2,"s":"Ar","d":"s","m":0.68,"y":0.01},{"p":2,"s":"Ar","d":"s","m":0.72,"y":0.015},{"p":2,"s":"Ar","d":"s","m":0.76,"y":0.022},{"p":2,"s":"Ar","d":"s","m":0.8,"y":0.03},{"p":2,"s":"Ar","d":"s","m":0.84,"y":0.038},{"p":2,"s":"Ar","d":"s","m":0.87,"y":0.04},{"p":2,"s":"Ar","d":"s","m":0.911,"y":0.05},{"p":2,"s":"Ar","d":"s","m":0.95,"y":0.052},{"p":2,"s":"Ar","d":"s","m":0.995,"y":0.05},{"p":2,"s":"Ar","d":"s","m":1.037,"y":0.042},{"p":2,"s":"Ar","d":"s","m":1.08,"y":0.037},{"p":2,"s":"Ar","d":"s","m":1.121,"y":0.035},{"p":2,"s":"Ar","d":"s","m":1.16,"y":0.034},{"p":2,"s":"Ar","d":"s","m":1.19,"y":0.034},{"p":2,"s":"Ar","d":"s","m":1.205,"y":0.03},{"p":2,"s":"Ar","d":"s","m":1.225,"y":0.02},{"p":2,"s":"Ar","d":"s","m":1.232,"y":0.004},{"p":2,"s":"Ar","d":"s","m":1.236,"y":0.0001},
{"p":2,"s":"Fe52","d":"s","m":0.555,"y":0.0001},{"p":2,"s":"Fe52","d":"s","m":0.56,"y":0.005},{"p":2,"s":"Fe52","d":"s","m":0.57,"y":0.012},{"p":2,"s":"Fe52","d":"s","m":0.584,"y":0.023},{"p":2,"s":"Fe52","d":"s","m":0.626,"y":0.03},{"p":2,"s":"Fe52","d":"s","m":0.7,"y":0.033},{"p":2,"s":"Fe52","d":"s","m":0.75,"y":0.033},{"p":2,"s":"Fe52","d":"s","m":0.8,"y":0.032},{"p":2,"s":"Fe52","d":"s","m":0.87,"y":0.028},{"p":2,"s":"Fe52","d":"s","m":0.92,"y":0.022},{"p":2,"s":"Fe52","d":"s","m":0.96,"y":0.016},{"p":2,"s":"Fe52","d":"s","m":0.99,"y":0.012},{"p":2,"s":"Fe52","d":"s","m":1.037,"y":0.0075},{"p":2,"s":"Fe52","d":"s","m":1.08,"y":0.0055},{"p":2,"s":"Fe52","d":"s","m":1.12,"y":0.004},{"p":2,"s":"Fe52","d":"s","m":1.16,"y":0.0025},{"p":2,"s":"Fe52","d":"s","m":1.18,"y":0.0013},{"p":2,"s":"Fe52","d":"s","m":1.19,"y":0.0001},
{"p":2,"s":"Co","d":"s","m":0.553,"y":0.0001},{"p":2,"s":"Co","d":"s","m":0.557,"y":0.004},{"p":2,"s":"Co","d":"s","m":0.562,"y":0.0085},{"p":2,"s":"Co","d":"s","m":0.584,"y":0.0095},{"p":2,"s":"Co","d":"s","m":0.626,"y":0.0093},{"p":2,"s":"Co","d":"s","m":0.7,"y":0.009},{"p":2,"s":"Co","d":"s","m":0.8,"y":0.0087},{"p":2,"s":"Co","d":"s","m":0.87,"y":0.0086},{"p":2,"s":"Co","d":"s","m":0.953,"y":0.0076},{"p":2,"s":"Co","d":"s","m":1.037,"y":0.006},{"p":2,"s":"Co","d":"s","m":1.121,"y":0.0041},{"p":2,"s":"Co","d":"s","m":1.163,"y":0.003},{"p":2,"s":"Co","d":"s","m":1.188,"y":0.0022},{"p":2,"s":"Co","d":"s","m":1.197,"y":0.0001},
{"p":2,"s":"Cr","d":"s","m":0.6,"y":0.0001},{"p":2,"s":"Cr","d":"s","m":0.617,"y":0.00064},{"p":2,"s":"Cr","d":"s","m":0.651,"y":0.001},{"p":2,"s":"Cr","d":"s","m":0.693,"y":0.00126},{"p":2,"s":"Cr","d":"s","m":0.752,"y":0.00148},{"p":2,"s":"Cr","d":"s","m":0.819,"y":0.00174},{"p":2,"s":"Cr","d":"s","m":0.869,"y":0.0018},{"p":2,"s":"Cr","d":"s","m":0.9,"y":0.00165},{"p":2,"s":"Cr","d":"s","m":0.953,"y":0.00118},{"p":2,"s":"Cr","d":"s","m":0.995,"y":0.00085},{"p":2,"s":"Cr","d":"s","m":1.01,"y":0.00062},{"p":2,"s":"Cr","d":"s","m":1.02,"y":0.0001},
{"p":2,"s":"Cu","d":"s","m":0.15,"y":0.0001},{"p":2,"s":"Cu","d":"s","m":0.155,"y":0.0009},{"p":2,"s":"Cu","d":"s","m":0.168,"y":0.0012},{"p":2,"s":"Cu","d":"s","m":0.178,"y":0.00125},{"p":2,"s":"Cu","d":"s","m":0.19,"y":0.001},{"p":2,"s":"Cu","d":"s","m":0.214,"y":0.00095},{"p":2,"s":"Cu","d":"s","m":0.26,"y":0.0009},{"p":2,"s":"Cu","d":"s","m":0.3,"y":0.00088},{"p":2,"s":"Cu","d":"s","m":0.35,"y":0.00085},{"p":2,"s":"Cu","d":"s","m":0.4,"y":0.0008},{"p":2,"s":"Cu","d":"s","m":0.43,"y":0.00077},{"p":2,"s":"Cu","d":"s","m":0.46,"y":0.0007},{"p":2,"s":"Cu","d":"s","m":0.48,"y":0.00066},{"p":2,"s":"Cu","d":"s","m":0.495,"y":0.0001},
{"p":2,"s":"Fe54c","d":"l","m":0.03,"y":0.0001},{"p":2,"s":"Fe54c","d":"l","m":0.04,"y":0.01},{"p":2,"s":"Fe54c","d":"l","m":0.047,"y":0.1},{"p":2,"s":"Fe54c","d":"l","m":0.055,"y":0.55},{"p":2,"s":"Fe54c","d":"l","m":0.065,"y":0.45},{"p":2,"s":"Fe54c","d":"l","m":0.08,"y":0.3},{"p":2,"s":"Fe54c","d":"l","m":0.095,"y":0.2},{"p":2,"s":"Fe54c","d":"l","m":0.099,"y":0.05},{"p":2,"s":"Fe54c","d":"l","m":0.1,"y":0.0001},
{"p":2,"s":"Fe54","d":"l","m":0.553,"y":0.0001},{"p":2,"s":"Fe54","d":"l","m":0.556,"y":0.02},{"p":2,"s":"Fe54","d":"l","m":0.56,"y":0.04},{"p":2,"s":"Fe54","d":"l","m":0.58,"y":0.045},{"p":2,"s":"Fe54","d":"l","m":0.6,"y":0.047},{"p":2,"s":"Fe54","d":"l","m":0.62,"y":0.044},{"p":2,"s":"Fe54","d":"l","m":0.64,"y":0.048},{"p":2,"s":"Fe54","d":"l","m":0.66,"y":0.045},{"p":2,"s":"Fe54","d":"l","m":0.68,"y":0.049},{"p":2,"s":"Fe54","d":"l","m":0.7,"y":0.046},{"p":2,"s":"Fe54","d":"l","m":0.72,"y":0.048},{"p":2,"s":"Fe54","d":"l","m":0.75,"y":0.047},{"p":2,"s":"Fe54","d":"l","m":0.8,"y":0.05},{"p":2,"s":"Fe54","d":"l","m":0.85,"y":0.055},{"p":2,"s":"Fe54","d":"l","m":0.9,"y":0.057},{"p":2,"s":"Fe54","d":"l","m":1.0,"y":0.058},{"p":2,"s":"Fe54","d":"l","m":1.1,"y":0.058},{"p":2,"s":"Fe54","d":"l","m":1.19,"y":0.058},{"p":2,"s":"Fe54","d":"l","m":1.205,"y":0.05},{"p":2,"s":"Fe54","d":"l","m":1.213,"y":0.04},{"p":2,"s":"Fe54","d":"l","m":1.226,"y":0.02},{"p":2,"s":"Fe54","d":"l","m":1.234,"y":0.005},{"p":2,"s":"Fe54","d":"l","m":1.238,"y":0.0001},
{"p":2,"s":"O","d":"s","m":1.198,"y":0.0001},{"p":2,"s":"O","d":"s","m":1.205,"y":0.0012},{"p":2,"s":"O","d":"s","m":1.213,"y":0.0048},{"p":2,"s":"O","d":"s","m":1.23,"y":0.023},{"p":2,"s":"O","d":"s","m":1.247,"y":0.11},{"p":2,"s":"O","d":"s","m":1.264,"y":0.28},{"p":2,"s":"O","d":"s","m":1.28,"y":0.52},{"p":2,"s":"O","d":"s","m":1.293,"y":0.64},{"p":2,"s":"O","d":"s","m":1.31,"y":0.67},
{"p":2,"s":"Mg","d":"s","m":1.24,"y":0.0001},{"p":2,"s":"Mg","d":"s","m":1.25,"y":0.0015},{"p":2,"s":"Mg","d":"s","m":1.265,"y":0.008},{"p":2,"s":"Mg","d":"s","m":1.28,"y":0.025},{"p":2,"s":"Mg","d":"s","m":1.295,"y":0.045},{"p":2,"s":"Mg","d":"s","m":1.31,"y":0.06},
{"p":2,"s":"c4","d":"s","m":1.255,"y":0.0001},{"p":2,"s":"c4","d":"s","m":1.27,"y":0.0015},{"p":2,"s":"c4","d":"s","m":1.285,"y":0.003},{"p":2,"s":"c4","d":"s","m":1.295,"y":0.0028},{"p":2,"s":"c4","d":"s","m":1.31,"y":0.0035}
],
"leaders": [
{"p":1,"id":"a","m":0.045,"y":0.6},{"p":1,"id":"a","m":0.035,"y":0.45},
{"p":1,"id":"b","m":0.089,"y":0.45},{"p":1,"id":"b","m":0.069,"y":0.55},
{"p":1,"id":"c","m":0.203,"y":0.49},{"p":1,"id":"c","m":0.173,"y":0.42},
{"p":1,"id":"d","m":0.207,"y":0.27},{"p":1,"id":"d","m":0.175,"y":0.28},
{"p":1,"id":"e","m":0.261,"y":0.175},{"p":1,"id":"e","m":0.173,"y":0.054},
{"p":1,"id":"f","m":0.215,"y":0.071},{"p":1,"id":"f","m":0.178,"y":0.056},
{"p":1,"id":"g","m":0.756,"y":0.083},{"p":1,"id":"g","m":0.758,"y":0.062},
{"p":1,"id":"h","m":0.739,"y":0.035},{"p":1,"id":"h","m":0.7,"y":0.038},
{"p":1,"id":"i","m":0.88,"y":0.0138},{"p":1,"id":"i","m":0.877,"y":0.0105},
{"p":1,"id":"j","m":0.606,"y":0.00166},{"p":1,"id":"j","m":0.593,"y":0.00138},
{"p":1,"id":"k","m":1.13,"y":0.056},{"p":1,"id":"k","m":1.147,"y":0.043},
{"p":2,"id":"a","m":0.045,"y":0.66},{"p":2,"id":"a","m":0.03,"y":0.55},
{"p":2,"id":"b","m":0.096,"y":0.47},{"p":2,"id":"b","m":0.055,"y":0.55},
{"p":2,"id":"c","m":0.092,"y":0.32},{"p":2,"id":"c","m":0.059,"y":0.35},
{"p":2,"id":"d","m":0.214,"y":0.145},{"p":2,"id":"d","m":0.172,"y":0.093},
{"p":2,"id":"e","m":0.24,"y":0.0195},{"p":2,"id":"e","m":0.176,"y":0.037},
{"p":2,"id":"f","m":0.91,"y":0.072},{"p":2,"id":"f","m":0.902,"y":0.058},
{"p":2,"id":"g","m":0.886,"y":0.036},{"p":2,"id":"g","m":0.869,"y":0.042},
{"p":2,"id":"h","m":0.995,"y":0.0132},{"p":2,"id":"h","m":0.99,"y":0.0105},
{"p":2,"id":"i","m":1.138,"y":0.0086},{"p":2,"id":"i","m":1.213,"y":0.0041}
],
"labels": [
{"p":1,"t":"⁵⁶Fe","m":0.057,"y":0.69},{"p":1,"t":"⁵⁴Fe","m":0.115,"y":0.4},{"p":1,"t":"²⁸Si","m":0.236,"y":0.53},{"p":1,"t":"³²S","m":0.228,"y":0.295},{"p":1,"t":"⁴⁰Ca, ³⁶Ar","m":0.363,"y":0.21},{"p":1,"t":"⁵²Fe, ⁵⁴Fe","m":0.363,"y":0.14},{"p":1,"t":"⁵⁸Ni","m":0.24,"y":0.077},{"p":1,"t":"⁵⁶Ni","m":0.588,"y":0.57},{"p":1,"t":"⁴⁰Ca","m":0.75,"y":0.098},{"p":1,"t":"³⁶Ar","m":0.782,"y":0.032},{"p":1,"t":"⁵²Fe","m":0.875,"y":0.0168},{"p":1,"t":"⁵⁵Co","m":0.664,"y":0.011},{"p":1,"t":"⁵⁸Ni","m":0.687,"y":0.0036},{"p":1,"t":"⁴⁸Cr","m":0.636,"y":0.0019},{"p":1,"t":"²⁸Si","m":1.03,"y":0.76},{"p":1,"t":"¹⁶O","m":1.205,"y":0.76},{"p":1,"t":"³²S","m":1.03,"y":0.37},{"p":1,"t":"⁵⁴Fe","m":1.064,"y":0.072},{"p":1,"t":"²⁴Mg","m":1.25,"y":0.036},{"p":1,"t":"⁵⁶Fe","m":1.18,"y":0.0043},
{"p":2,"t":"⁵⁶Fe","m":0.068,"y":0.72},{"p":2,"t":"⁵⁴Fe","m":0.126,"y":0.43},{"p":2,"t":"⁵⁸Ni","m":0.126,"y":0.28},{"p":2,"t":"²⁸Si, ³²S","m":0.272,"y":0.162},{"p":2,"t":"⁵⁸Ni","m":0.34,"y":0.063},{"p":2,"t":"⁴⁰Ca, ³⁶Ar","m":0.335,"y":0.0155},{"p":2,"t":"⁵²Fe, ⁵⁴Fe","m":0.332,"y":0.0088},{"p":2,"t":"⁵⁹Cu","m":0.373,"y":0.00118},{"p":2,"t":"⁵⁶Ni","m":0.7,"y":0.64},{"p":2,"t":"⁵⁴Fe","m":0.625,"y":0.063},{"p":2,"t":"⁵⁵Co","m":0.824,"y":0.0118},{"p":2,"t":"⁵⁸Ni","m":0.8,"y":0.0048},{"p":2,"t":"⁴⁸Cr","m":0.9,"y":0.0021},{"p":2,"t":"²⁸Si","m":1.13,"y":0.75},{"p":2,"t":"¹⁶O","m":1.26,"y":0.72},{"p":2,"t":"³²S","m":1.14,"y":0.37},{"p":2,"t":"⁴⁰Ca","m":0.927,"y":0.087},{"p":2,"t":"³⁶Ar","m":0.932,"y":0.032},{"p":2,"t":"⁵²Fe","m":0.982,"y":0.0166},{"p":2,"t":"²⁴Mg","m":1.262,"y":0.048},{"p":2,"t":"⁵⁶Fe","m":1.13,"y":0.011}
]
},
"hconcat": [
{
 "title": {"text": "WS15DD1", "font": "Liberation Mono", "fontSize": 30, "fontWeight": "normal", "color": "black", "anchor": "middle", "frame": "bounds", "offset": 7},
 "width": 522, "height": 313,
 "layer": [
  {"data": {"name": "lines"}, "transform": [{"filter": "datum.p==1"}],
   "mark": {"type": "line", "clip": true, "strokeWidth": 1, "color": "black"},
   "encoding": {
    "x": {"field": "m", "type": "quantitative", "scale": {"domain": [0, 1.31], "nice": false, "zero": false},
      "axis": {"orient": "bottom", "values": [0,0.02,0.04,0.06,0.08,0.1,0.12,0.14,0.16,0.18,0.2,0.22,0.24,0.26,0.28,0.3,0.32,0.34,0.36,0.38,0.4,0.42,0.44,0.46,0.48,0.5,0.52,0.54,0.56,0.58,0.6,0.62,0.64,0.66,0.68,0.7,0.72,0.74,0.76,0.78,0.8,0.82,0.84,0.86,0.88,0.9,0.92,0.94,0.96,0.98,1,1.02,1.04,1.06,1.08,1.1,1.12,1.14,1.16,1.18,1.2,1.22,1.24,1.26,1.28,1.3],
       "labelExpr": "abs(datum.value*5-round(datum.value*5))<0.0001 ? format(datum.value,'.1f') : ''",
       "tickSize": {"condition": {"test": "abs(datum.value*5-round(datum.value*5))<0.0001", "value": -10}, "value": -5},
       "labelPadding": 14, "title": "M(r)/M⊙", "titleFontSize": 22, "titlePadding": 7}},
    "y": {"field": "y", "type": "quantitative", "scale": {"type": "log", "domain": [0.00064, 1], "nice": false},
      "axis": {"orient": "left", "values": [0.0007,0.0008,0.0009,0.001,0.002,0.003,0.004,0.005,0.006,0.007,0.008,0.009,0.01,0.02,0.03,0.04,0.05,0.06,0.07,0.08,0.09,0.1,0.2,0.3,0.4,0.5,0.6,0.7,0.8,0.9,1],
       "labelExpr": "datum.value==1?'10⁰':datum.value==0.1?'10⁻¹':datum.value==0.01?'10⁻²':datum.value==0.001?'10⁻³':''",
       "tickSize": {"condition": {"test": "datum.value==1||datum.value==0.1||datum.value==0.01||datum.value==0.001", "value": -10}, "value": -5},
       "labelPadding": 14, "labelFontSize": 20, "title": "Mass Fraction", "titleFontSize": 23, "titlePadding": 7}},
    "detail": {"field": "s", "type": "nominal"},
    "strokeDash": {"field": "d", "type": "nominal", "scale": {"domain": ["s","d","l"], "range": [[1,0],[4,3],[10,5]]}, "legend": null}
   }},
  {"data": {"name": "leaders"}, "transform": [{"filter": "datum.p==1"}],
   "mark": {"type": "line", "strokeWidth": 0.8, "color": "black", "strokeDash": [3,2]},
   "encoding": {"x": {"field": "m", "type": "quantitative", "axis": null}, "y": {"field": "y", "type": "quantitative", "axis": null}, "detail": {"field": "id", "type": "nominal"}}},
  {"data": {"name": "labels"}, "transform": [{"filter": "datum.p==1"}],
   "mark": {"type": "text", "font": "Liberation Serif", "fontSize": 17, "color": "black"},
   "encoding": {
    "x": {"field": "m", "type": "quantitative",
      "axis": {"orient": "top", "values": [0,0.06,0.123,0.18,0.224,0.269,0.371,0.487,0.607,0.731,0.855,0.962,1.05,1.135,1.171,1.201,1.237,1.259,1.277,1.295,1.31],
       "labelExpr": "datum.value==0?'0':datum.value==0.269?'5':datum.value==0.855?'10':datum.value==1.201?'15':datum.value==1.31?'20':''",
       "tickSize": {"condition": {"test": "datum.value==0||datum.value==0.269||datum.value==0.855||datum.value==1.201||datum.value==1.31", "value": -10}, "value": -5},
       "labelPadding": 15, "title": "Expansion Velocity (x10³ km s⁻¹)", "titleFontSize": 20, "titlePadding": 3}},
    "y": {"field": "y", "type": "quantitative",
      "axis": {"orient": "right", "values": [0.0007,0.0008,0.0009,0.001,0.002,0.003,0.004,0.005,0.006,0.007,0.008,0.009,0.01,0.02,0.03,0.04,0.05,0.06,0.07,0.08,0.09,0.1,0.2,0.3,0.4,0.5,0.6,0.7,0.8,0.9,1],
       "labels": false, "title": null,
       "tickSize": {"condition": {"test": "datum.value==1||datum.value==0.1||datum.value==0.01||datum.value==0.001", "value": -10}, "value": -5}}},
    "text": {"field": "t", "type": "nominal"}
   }}
 ],
 "resolve": {"axis": {"x": "independent", "y": "independent"}}
},
{
 "title": {"text": "WS15DD2", "font": "Liberation Mono", "fontSize": 30, "fontWeight": "normal", "color": "black", "anchor": "middle", "frame": "bounds", "offset": 7},
 "width": 522, "height": 313,
 "layer": [
  {"data": {"name": "lines"}, "transform": [{"filter": "datum.p==2"}],
   "mark": {"type": "line", "clip": true, "strokeWidth": 1, "color": "black"},
   "encoding": {
    "x": {"field": "m", "type": "quantitative", "scale": {"domain": [0, 1.31], "nice": false, "zero": false},
      "axis": {"orient": "bottom", "values": [0,0.02,0.04,0.06,0.08,0.1,0.12,0.14,0.16,0.18,0.2,0.22,0.24,0.26,0.28,0.3,0.32,0.34,0.36,0.38,0.4,0.42,0.44,0.46,0.48,0.5,0.52,0.54,0.56,0.58,0.6,0.62,0.64,0.66,0.68,0.7,0.72,0.74,0.76,0.78,0.8,0.82,0.84,0.86,0.88,0.9,0.92,0.94,0.96,0.98,1,1.02,1.04,1.06,1.08,1.1,1.12,1.14,1.16,1.18,1.2,1.22,1.24,1.26,1.28,1.3],
       "labelExpr": "abs(datum.value*5-round(datum.value*5))<0.0001 ? format(datum.value,'.1f') : ''",
       "tickSize": {"condition": {"test": "abs(datum.value*5-round(datum.value*5))<0.0001", "value": -10}, "value": -5},
       "labelPadding": 14, "title": "M(r)/M⊙", "titleFontSize": 22, "titlePadding": 7}},
    "y": {"field": "y", "type": "quantitative", "scale": {"type": "log", "domain": [0.00064, 1], "nice": false},
      "axis": {"orient": "left", "values": [0.0007,0.0008,0.0009,0.001,0.002,0.003,0.004,0.005,0.006,0.007,0.008,0.009,0.01,0.02,0.03,0.04,0.05,0.06,0.07,0.08,0.09,0.1,0.2,0.3,0.4,0.5,0.6,0.7,0.8,0.9,1],
       "labelExpr": "datum.value==1?'10⁰':datum.value==0.1?'10⁻¹':datum.value==0.01?'10⁻²':datum.value==0.001?'10⁻³':''",
       "tickSize": {"condition": {"test": "datum.value==1||datum.value==0.1||datum.value==0.01||datum.value==0.001", "value": -10}, "value": -5},
       "labelPadding": 14, "labelFontSize": 20, "title": "Mass Fraction", "titleFontSize": 23, "titlePadding": 7}},
    "detail": {"field": "s", "type": "nominal"},
    "strokeDash": {"field": "d", "type": "nominal", "scale": {"domain": ["s","d","l"], "range": [[1,0],[4,3],[10,5]]}, "legend": null}
   }},
  {"data": {"name": "leaders"}, "transform": [{"filter": "datum.p==2"}],
   "mark": {"type": "line", "strokeWidth": 0.8, "color": "black", "strokeDash": [3,2]},
   "encoding": {"x": {"field": "m", "type": "quantitative", "axis": null}, "y": {"field": "y", "type": "quantitative", "axis": null}, "detail": {"field": "id", "type": "nominal"}}},
  {"data": {"name": "labels"}, "transform": [{"filter": "datum.p==2"}],
   "mark": {"type": "text", "font": "Liberation Serif", "fontSize": 17, "color": "black"},
   "encoding": {
    "x": {"field": "m", "type": "quantitative",
      "axis": {"orient": "top", "values": [0,0.049,0.094,0.139,0.175,0.266,0.375,0.483,0.605,0.727,0.84,0.949,1.048,1.13,1.161,1.193,1.225,1.252,1.274,1.292,1.31],
       "labelExpr": "datum.value==0?'0':datum.value==0.266?'5':datum.value==0.84?'10':datum.value==1.193?'15':datum.value==1.31?'20':''",
       "tickSize": {"condition": {"test": "datum.value==0||datum.value==0.266||datum.value==0.84||datum.value==1.193||datum.value==1.31", "value": -10}, "value": -5},
       "labelPadding": 15, "title": "Expansion Velocity (x10³ km s⁻¹)", "titleFontSize": 20, "titlePadding": 3}},
    "y": {"field": "y", "type": "quantitative",
      "axis": {"orient": "right", "values": [0.0007,0.0008,0.0009,0.001,0.002,0.003,0.004,0.005,0.006,0.007,0.008,0.009,0.01,0.02,0.03,0.04,0.05,0.06,0.07,0.08,0.09,0.1,0.2,0.3,0.4,0.5,0.6,0.7,0.8,0.9,1],
       "labels": false, "title": null,
       "tickSize": {"condition": {"test": "datum.value==1||datum.value==0.1||datum.value==0.01||datum.value==0.001", "value": -10}, "value": -5}}},
    "text": {"field": "t", "type": "nominal"}
   }}
 ],
 "resolve": {"axis": {"x": "independent", "y": "independent"}}
}
]
}
